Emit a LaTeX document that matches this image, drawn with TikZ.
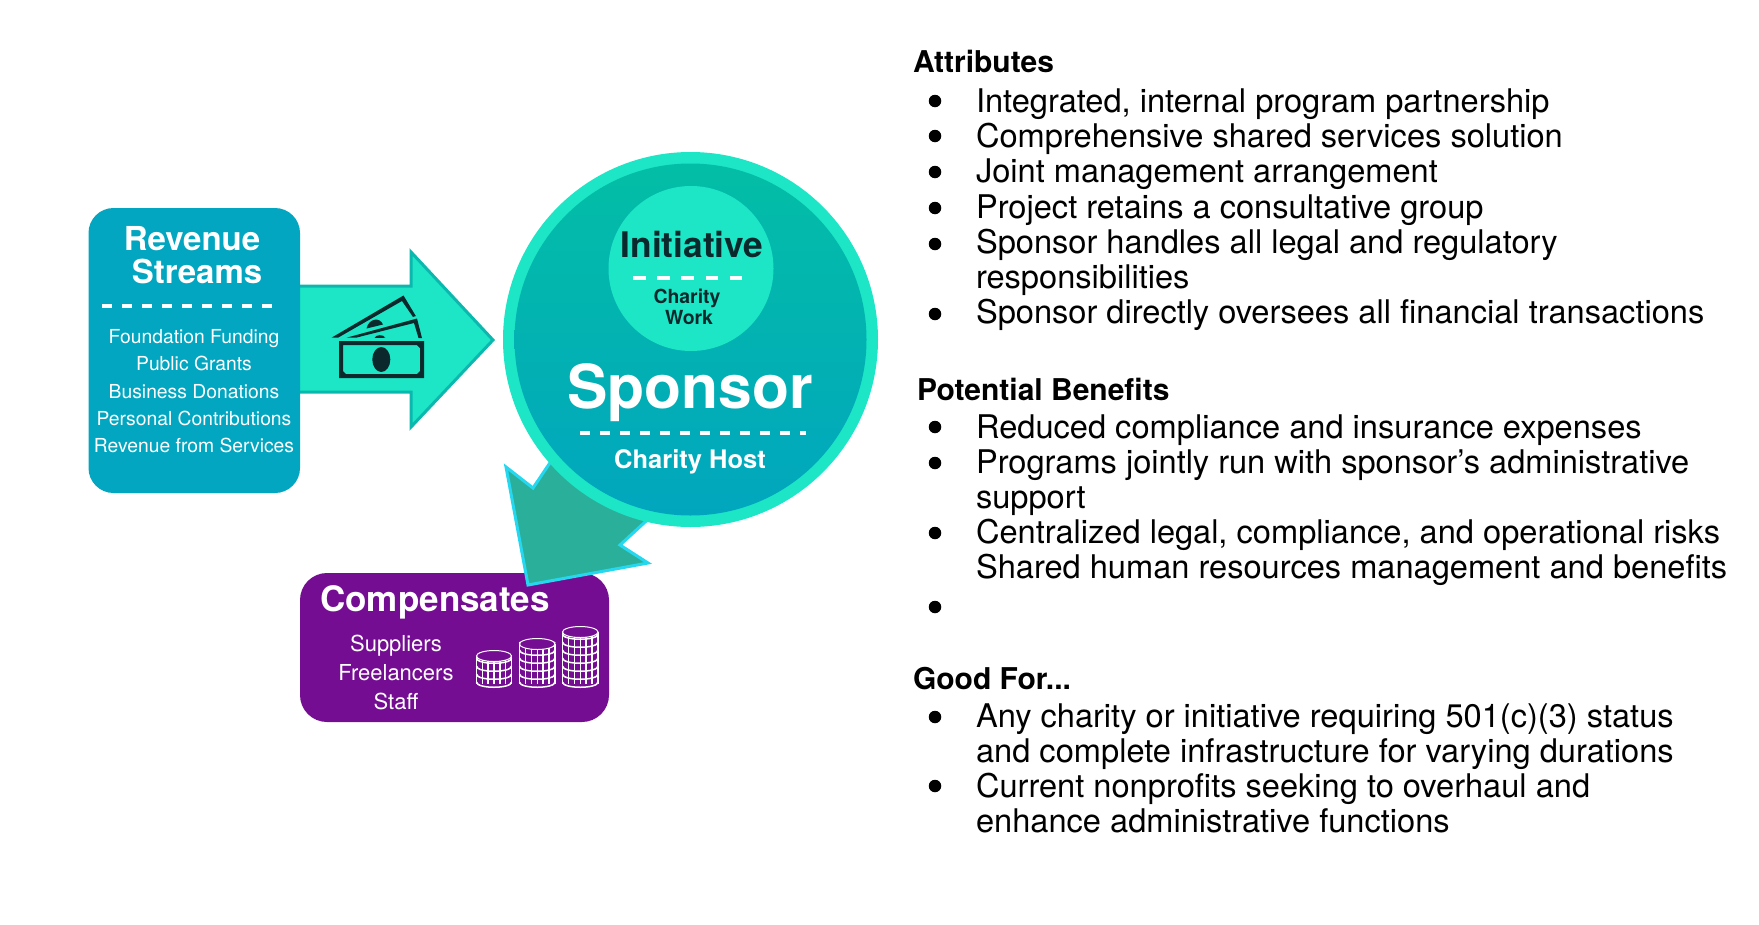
\documentclass[tikz,border=0pt]{standalone}
\usepackage{fontspec}
\setmainfont{TeX Gyre Heros}
\definecolor{tealbox}{HTML}{02A6C0}
\definecolor{aqua}{HTML}{1CE6C6}
\definecolor{aquaedge}{HTML}{0CB8AE}
\definecolor{discTop}{HTML}{03BEA6}
\definecolor{discBottom}{HTML}{01A6BE}
\definecolor{plum}{HTML}{750D93}
\definecolor{seagreen}{HTML}{2AB09A}
\definecolor{skyedge}{HTML}{25D8F0}
\definecolor{ink}{HTML}{0B282C}
\newcommand{\fs}[1]{\fontsize{#1}{#1}\selectfont}
\tikzset{
  x=1pt, y=-1pt,
  label/.style={inner sep=0pt, outer sep=0pt, anchor=base, text=white},
  listtext/.style={inner sep=0pt, outer sep=0pt, anchor=base west, text=black, font=\fs{32.6}},
  listhead/.style={inner sep=0pt, outer sep=0pt, anchor=base west, text=black, font=\fs{30}\bfseries},
  dot/.style={circle, fill=black, inner sep=0pt, minimum size=12.5pt},
  divider/.style={white, line width=4pt, dash pattern=on 10pt off 10pt},
  coinline/.style={white, line width=1.5pt},
}
% one stack of coins: left, right, top of the cylinder, bottom of its wall
\newcommand{\coinstack}[4]{%
  \pgfmathsetmacro{\stackmid}{(#1+#2)/2}
  \pgfmathsetmacro{\stackhalf}{(#2-#1)/2}
  \foreach \col in {0,...,6}{
    \pgfmathsetmacro{\cx}{#1+\col*(#2-#1)/6}
    \draw[coinline] (\cx,#3) -- (\cx,#4-3);
  }
  \pgfmathsetmacro{\rows}{int(round((#4-5-#3)/8))}
  \foreach \row in {0,...,\rows}{
    \pgfmathsetmacro{\ry}{#4-5-\row*8}
    \draw[coinline] (#1,\ry) .. controls (#1,\ry+7) and (#2,\ry+7) .. (#2,\ry);
  }
  \fill[plum] (\stackmid,#3) ellipse [x radius=\stackhalf pt, y radius=5.5pt];
  \draw[white, line width=1pt] (\stackmid,#3) ellipse [x radius=\stackhalf pt, y radius=5.5pt];
}
\begin{document}
\begin{tikzpicture}
\useasboundingbox (0,0) rectangle (1759,924);

% inflow arrow and the money icon on it
\draw[fill=aqua, draw=aquaedge, line width=3pt, miter limit=10]
  (290,286) -- (411,286) -- (411,252) -- (493,340) -- (411,427) -- (411,392) -- (290,392) -- cycle;
\fill[ink] (331.5,337.7) -- (403.5,295.5) -- (415.8,316) -- (413,317) -- (402,301) -- (338,337.7) -- cycle;
\fill[ink] (346.5,337.7) -- (417,318.5) -- (422,338) -- (418.5,338) -- (414,323) -- (356,337.7) -- cycle;
\fill[ink] (366.5,328.5) .. controls (369,318) and (380,317) .. (383,324.5) -- cycle;
\fill[ink] (374.5,338) .. controls (376,334.5) and (383,334) .. (385.5,337.7) -- cycle;
\fill[ink, even odd rule]
  (339,341) rectangle (424,378)
  (343,345) -- (417,345) -- (420,348) -- (420,371) -- (417,374) -- (346,374) -- (343,371) -- cycle;
\fill[ink] (381.3,359.5) ellipse [x radius=9pt, y radius=12.5pt];

% revenue panel
\node[rectangle, fill=tealbox, rounded corners=25pt, minimum width=211.5pt, minimum height=285pt, inner sep=0pt]
  (revenue) at (194.25,350.5) {};
\node[label, font=\fs{33}\bfseries] (revTitleA) at (192,250) {Revenue};
\node[label, font=\fs{33}\bfseries] (revTitleB) at (197,283) {Streams};
\draw[divider] (102,306) -- (273,306);
\node[label, font=\fs{19.3}] (revA) at (194,343) {Foundation Funding};
\node[label, font=\fs{19.3}] (revB) at (194,370) {Public Grants};
\node[label, font=\fs{19.3}] (revC) at (194,398) {Business Donations};
\node[label, font=\fs{19.3}] (revD) at (194,425) {Personal Contributions};
\node[label, font=\fs{19.3}] (revE) at (194,452) {Revenue from Services};

% purple panel with coin stacks
\node[rectangle, fill=plum, rounded corners=27pt, minimum width=309pt, minimum height=149pt, inner sep=0pt]
  (comp) at (454.5,647.5) {};
\node[label, font=\fs{35}\bfseries] (compTitle) at (435,611) {Compensates};
\node[label, font=\fs{22}] (compA) at (396,651) {Suppliers};
\node[label, font=\fs{22}] (compB) at (396,680) {Freelancers};
\node[label, font=\fs{22}] (compC) at (396,709) {Staff};
\coinstack{476.5}{511.5}{656}{687}
\coinstack{519.5}{555}{644}{687}
\coinstack{562.5}{598}{632}{687}

% outflow arrow, passing under the disc
\draw[fill=seagreen, draw=skyedge, line width=3pt, miter limit=10]
  (528,585) -- (506,467) -- (533,488) -- (572,430) -- (680,490) -- (620,545) -- (648,563) -- cycle;

% sponsor disc
\node[circle, fill=aqua, minimum size=375pt, inner sep=0pt] (ring) at (690.5,339.5) {};
\node[circle, top color=discTop, bottom color=discBottom, minimum size=352pt, inner sep=0pt] (disc) at (690.5,339.5) {};
\node[circle, fill=aqua, minimum size=165pt, inner sep=0pt] (initiativeDisc) at (691,268.5) {};
\node[label, text=ink, font=\fs{35.3}\bfseries] (initiative) at (692,257) {Initiative};
\draw[white, line width=4pt, dash pattern=on 12.5pt off 11.7pt] (633,278) -- (742,278);
\node[label, text=ink, font=\fs{19.4}\bfseries] (workA) at (687,303) {Charity};
\node[label, text=ink, font=\fs{19.4}\bfseries] (workB) at (689,324) {Work};
\node[label, font=\fs{60.6}\bfseries] (sponsor) at (690,408) {Sponsor};
\draw[divider] (580,433) -- (806,433);
\node[label, font=\fs{25.5}\bfseries] (host) at (690,468) {Charity Host};

% attributes list
\node[listhead] (attrHead) at (913,72) {Attributes};
\node[dot] (a1) at (935,101) {};
\node[dot] (a2) at (935,136) {};
\node[dot] (a3) at (935,172) {};
\node[dot] (a4) at (935,208) {};
\node[dot] (a5) at (935,244) {};
\node[dot] (a6) at (935,314) {};
\node[listtext] (at1) at (976,112) {Integrated, internal program partnership};
\node[listtext] (at2) at (976,147) {Comprehensive shared services solution};
\node[listtext] (at3) at (976,182.5) {Joint management arrangement};
\node[listtext] (at4) at (976,218) {Project retains a consultative group};
\node[listtext] (at5) at (976,253) {Sponsor handles all legal and regulatory};
\node[listtext] (at6) at (976,288) {responsibilities};
\node[listtext] (at7) at (976,323) {Sponsor directly oversees all financial transactions};

% benefits list
\node[listhead] (benHead) at (917,400) {Potential Benefits};
\node[dot] (b1) at (935,427) {};
\node[dot] (b2) at (935,463) {};
\node[dot] (b3) at (935,533) {};
\node[dot] (b4) at (935,607) {};
\node[listtext] (bt1) at (976,438) {Reduced compliance and insurance expenses};
\node[listtext] (bt2) at (976,473) {Programs jointly run with sponsor's administrative};
\node[listtext] (bt3) at (976,508.5) {support};
\node[listtext] (bt4) at (976,543) {Centralized legal, compliance, and operational risks};
\node[listtext] (bt5) at (976,578) {Shared human resources management and benefits};

% suitability list
\node[listhead] (goodHead) at (913,689) {Good For...};
\node[dot] (g1) at (935,717) {};
\node[dot] (g2) at (935,786) {};
\node[listtext] (gt1) at (976,727) {Any charity or initiative requiring 501(c)(3) status};
\node[listtext] (gt2) at (976,762) {and complete infrastructure for varying durations};
\node[listtext] (gt3) at (976,797) {Current nonprofits seeking to overhaul and};
\node[listtext] (gt4) at (976,832) {enhance administrative functions};
\end{tikzpicture}
\end{document}
